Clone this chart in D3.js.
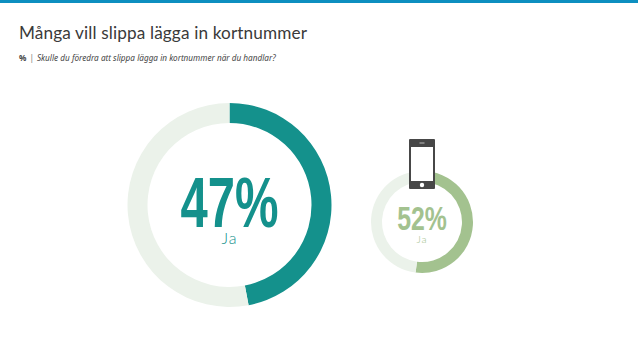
<!DOCTYPE html>
<html>
<head>
<meta charset="utf-8">
<script src="https://d3js.org/d3.v7.min.js"></script>
<style>
    html, body { margin: 0; padding: 0; background: #fff; }
    svg { display: block; }
    text { font-family: Lato, "Noto Sans", sans-serif; }
    text.num { font-family: "Liberation Sans Narrow", "Liberation Sans", sans-serif; }
    text.sub { font-family: "Noto Sans", sans-serif; }
</style>
</head>
<body>
<div id="chart"></div>
<script>
const title = "Många vill slippa lägga in kortnummer";
const unitLabel = "%";
const question = "Skulle du föredra att slippa lägga in kortnummer när du handlar?";
const answers = ["Ja", "Ja"];
const shares = [47, 52];
const ringColors = ["#14918c", "#a3c28f"];
const trackColor = "#ebf2ea";

const width = 638, height = 359;

const svg = d3.select("#chart").append("svg")
    .attr("width", width)
    .attr("height", height);

// top stripe
svg.append("rect").attr("width", width).attr("height", 3).attr("fill", "#0d8fc0");

svg.append("text")
    .attr("x", 19).attr("y", 39)
    .attr("font-size", 17.2)
    .attr("letter-spacing", 0.13)
    .attr("fill", "#3a3a3a")
    .text(title);

const sub = svg.append("text")
    .attr("class", "sub")
    .attr("x", 19).attr("y", 61)
    .attr("font-size", 8.2)
    .attr("fill", "#444");
sub.append("tspan").attr("font-weight", 700).text(unitLabel);
sub.append("tspan").attr("dx", 3).attr("fill", "#777").text("|");
sub.append("tspan").attr("dx", 3).attr("font-style", "italic").text(question);

// one ring per question, sizes
const rings = [
    {cx: 229.5, cy: 205, outer: 102, inner: 82, big: 70, small: 16, bigY: 227, smallY: 244, sx: 0.7},
    {cx: 422, cy: 222, outer: 51, inner: 40, big: 34, small: 10.5, bigY: 230, smallY: 243, sx: 0.73}
];

const pie = d3.pie().sort(null).value(d => d);
const arc = d3.arc();

rings.forEach((r, i) => {
    const g = svg.append("g").attr("transform", `translate(${r.cx},${r.cy})`);
    const slices = pie([shares[i], 100 - shares[i]]);

    g.selectAll("path")
        .data(slices)
        .enter().append("path")
        .attr("d", d => arc.innerRadius(r.inner).outerRadius(r.outer)(d))
        .attr("fill", (d, j) => j === 0 ? ringColors[i] : trackColor);

    svg.append("text")
        .attr("class", "num")
        .attr("transform", `translate(${r.cx},${r.bigY}) scale(${r.sx},1)`)
        .attr("text-anchor", "middle")
        .attr("font-size", r.big)
        .attr("font-weight", 700)
        .attr("fill", ringColors[i])
        .text(shares[i] + "%");

    svg.append("text")
        .attr("x", r.cx).attr("y", r.smallY)
        .attr("text-anchor", "middle")
        .attr("font-size", r.small)
        .attr("font-weight", 300)
        .attr("letter-spacing", 1)
        .attr("fill", ringColors[i])
        .text(answers[i]);
});

// phone icon on top of the small ring
const phone = svg.append("g").attr("transform", "translate(409,139)");
phone.append("rect").attr("width", 26).attr("height", 50).attr("rx", 1).attr("fill", "#474747");
phone.append("rect").attr("x", 2).attr("y", 8).attr("width", 22).attr("height", 34).attr("fill", "#fff");
phone.append("rect").attr("x", 10.5).attr("y", 3.5).attr("width", 5).attr("height", 1).attr("fill", "#bbb");
phone.append("circle").attr("cx", 13).attr("cy", 46).attr("r", 2.2).attr("fill", "#fff");
</script>
</body>
</html>
